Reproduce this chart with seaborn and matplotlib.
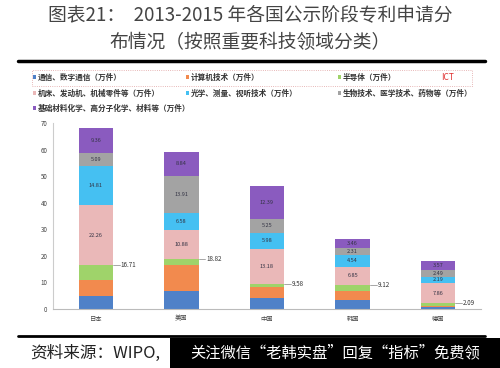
import seaborn as sns
import numpy as np
from matplotlib import pyplot as plt
from matplotlib.patches import Rectangle

countries = ["日本", "美国", "中国", "韩国", "德国"]
comm = [5.0, 6.8, 4.3, 3.3, 0.7]
computer = [5.9, 9.6, 4.1, 3.3, 0.6]
semi = [5.81, 2.42, 1.18, 2.52, 0.79]
ict_total = [16.71, 18.82, 9.58, 9.12, 2.09]
machine = [22.26, 10.88, 13.18, 6.85, 7.86]
optics = [14.81, 6.58, 5.98, 4.54, 2.19]
bio = [5.09, 13.91, 5.25, 2.31, 2.49]
material = [9.36, 8.84, 12.39, 3.46, 3.57]

series = [comm, computer, semi, machine, optics, bio, material]
names = ["通信、数字通信（万件）", "计算机技术（万件）", "半导体（万件）",
         "机床、发动机、机械零件等（万件）", "光学、测量、视听技术（万件）",
         "生物技术、医学技术、药物等（万件）", "基础材料化学、高分子化学、材料等（万件）"]
colors = ["#4f81c8", "#f28a4e", "#9fd36a", "#eab8b8", "#45c0f2", "#a3a3a3", "#8a5bbf"]
labelled = [False, False, False, True, True, True, True]

sns.set_style("white")
plt.rcParams['font.family'] = ['Noto Sans CJK SC', 'DejaVu Sans']

fig = plt.figure(figsize=(5, 3.68), dpi=100)
ax = fig.add_axes([53/500, 1-309/368, 428/500, 186/368])

bottom = np.zeros(len(countries))
for vals, col, lab in zip(series, colors, labelled):
    vals = np.array(vals)
    sns.barplot(x=countries, y=vals, bottom=bottom, color=col, width=0.4,
                saturation=1, errorbar=None, ax=ax, edgecolor="none")
    if lab:
        for i, v in enumerate(vals):
            ax.text(i, bottom[i] + v/2, f"{v:.2f}", ha="center", va="center",
                    fontsize=4, color="#333344")
    bottom = bottom + vals

for i, t in enumerate(ict_total):
    ax.plot([i + 0.2, i + 0.28], [t, t], color="#999999", lw=0.6)
    ax.text(i + 0.29, t, f"{t:.2f}", ha="left", va="center", fontsize=4.5, color="#333333")

ax.set_xlim(-0.5, 4.5)
ax.set_ylim(0, 70)
ax.set_yticks(range(0, 71, 10))
ax.tick_params(axis="both", labelsize=4.5, colors="#444444", length=0, pad=4)
for s in ["top", "right"]:
    ax.spines[s].set_visible(False)
ax.spines["left"].set_color("#cccccc")
ax.spines["bottom"].set_color("#bbbbbb")
ax.set_xlabel("")
ax.set_ylabel("")

# title
fig.text(0.5, 1-16/368, "图表21：  2013-2015 年各国公示阶段专利申请分", ha="center", va="center",
         fontsize=13.5, color="#444444")
fig.text(0.5, 1-43/368, "布情况（按照重要科技领域分类）", ha="center", va="center",
         fontsize=13.5, color="#444444")
fig.add_artist(plt.Line2D([18/500, 485/500], [1-61/368, 1-61/368], color="black", lw=2.5))

# legend
xs = [33, 186, 338]
ys = [77, 93, 108]
for k, (nm, col) in enumerate(zip(names, colors)):
    x = xs[k % 3] / 500
    y = 1 - ys[k // 3] / 368
    fig.add_artist(Rectangle((x, y - 0.006), 0.006, 0.012, transform=fig.transFigure,
                             color=col, lw=0))
    fig.text(x + 0.01, y, nm, ha="left", va="center", fontsize=5.5, color="#333333",
             fontweight="bold")
fig.add_artist(Rectangle((32/500, 1-86/368), 440/500, 16/368, transform=fig.transFigure,
                         fill=False, edgecolor="#e0a0a0", lw=0.6, ls=":"))
fig.text(448/500, 1-77/368, "ICT", ha="center", va="center", fontsize=6, color="#e03030")

# footer
fig.add_artist(plt.Line2D([18/500, 485/500], [1-336/368, 1-336/368], color="black", lw=2))
fig.text(30/500, 1-353/368, "资料来源：WIPO,", ha="left", va="center", fontsize=12,
         color="#222222", style="italic")
fig.add_artist(Rectangle((170/500, 0), 330/500, 30/368, transform=fig.transFigure,
                         color="black", lw=0))
fig.text(335/500, 1-353/368, "关注微信“老韩实盘”回复“指标”免费领", ha="center", va="center",
         fontsize=11, color="white")

fig.savefig("out.png", dpi=100)
